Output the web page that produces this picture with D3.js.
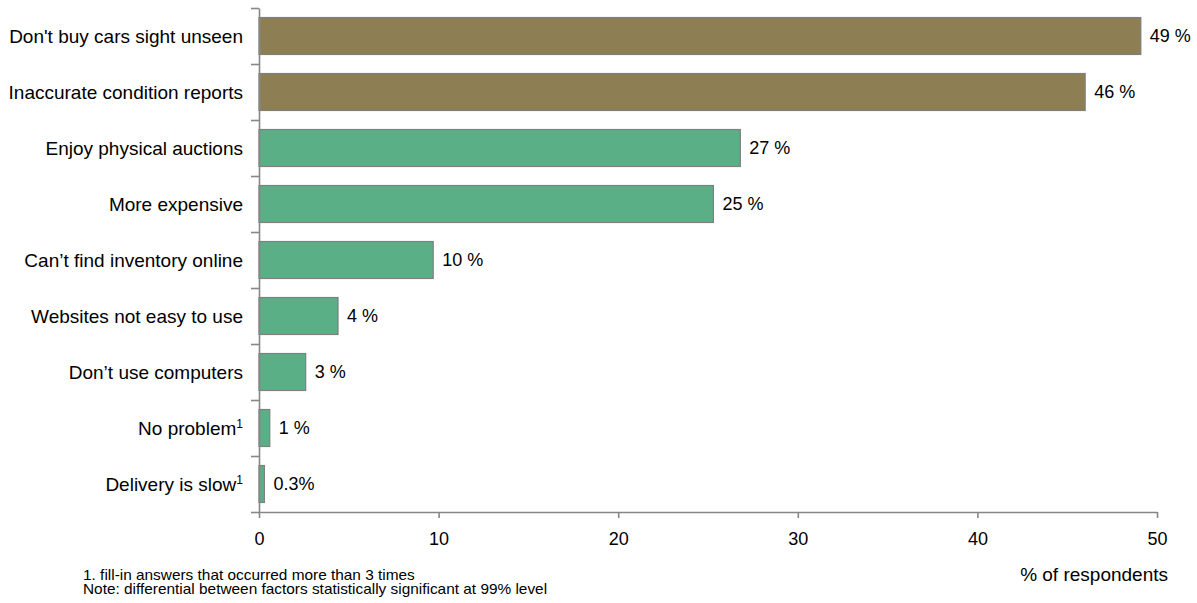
<!DOCTYPE html>
<html>
<head>
<meta charset="utf-8">
<script src="https://cdn.jsdelivr.net/npm/d3@7"></script>
<style>
  html, body { margin: 0; padding: 0; background: #fff; }
  svg { display: block; font-family: "Liberation Sans", Arial, sans-serif; }
</style>
</head>
<body>
<svg id="chart" width="1197" height="603"></svg>
<script>
// Reasons for not buying at online auctions (% of respondents)
const categories = [
  "Don't buy cars sight unseen",
  "Inaccurate condition reports",
  "Enjoy physical auctions",
  "More expensive",
  "Can\u2019t find inventory online",
  "Websites not easy to use",
  "Don\u2019t use computers",
  "No problem",
  "Delivery is slow"
];
const values = [49.1, 46.0, 26.8, 25.3, 9.7, 4.4, 2.6, 0.6, 0.3];
// categories flagged with footnote 1 (fill-in answers)
const footnoted = [false, false, false, false, false, false, false, true, true];
// top two reasons are highlighted
const highlighted = [true, true, false, false, false, false, false, false, false];
const xTicks = [0, 10, 20, 30, 40, 50];
const footnotes = [
  "1. fill-in answers that occurred more than 3 times",
  "Note: differential between factors statistically significant at 99% level"
];
const axisTitle = "% of respondents";

const svg = d3.select("#chart");
const plot = { left: 259, right: 1157, top: 8, bottom: 512 };
const axisColor = "#878787";

const x = d3.scaleLinear().domain([0, 50]).range([plot.left, plot.right]);
const y = d3.scaleBand().domain(categories).range([plot.top, plot.bottom])
  .paddingInner(0.34).paddingOuter(0.17);

const rows = categories.map((c, i) => ({
  name: c, value: values[i], note: footnoted[i], hi: highlighted[i]
}));

// bars
svg.append("g").selectAll("rect").data(rows).join("rect")
  .attr("x", x(0))
  .attr("y", d => y(d.name))
  .attr("width", d => x(d.value) - x(0))
  .attr("height", y.bandwidth())
  .attr("fill", d => d.hi ? "#8D7E53" : "#5BAF86")
  .attr("stroke", "#7f7f7f")
  .attr("stroke-width", 1.2);

// value labels
const fmt = v => v < 0.5 ? v.toFixed(1) + "%" : Math.round(v) + " %";
svg.append("g").selectAll("text").data(rows).join("text")
  .attr("x", d => x(d.value) + 9)
  .attr("y", d => y(d.name) + y.bandwidth() / 2)
  .attr("dy", "0.36em")
  .attr("font-size", 18)
  .attr("fill", "#000")
  .text(d => fmt(d.value));

// category labels
const catLabels = svg.append("g").selectAll("text").data(rows).join("text")
  .attr("x", 243)
  .attr("y", d => y(d.name) + y.bandwidth() / 2)
  .attr("dy", "0.36em")
  .attr("text-anchor", "end")
  .attr("font-size", 19)
  .attr("fill", "#000");
catLabels.append("tspan").text(d => d.name);
catLabels.filter(d => d.note).append("tspan")
  .attr("font-size", 12)
  .attr("dy", "-0.55em")
  .text("1");

// y axis with ticks at category boundaries
const yEdges = d3.scaleLinear().domain([0, categories.length]).range([plot.top, plot.bottom]);
const yAxis = svg.append("g")
  .attr("transform", `translate(${plot.left},0)`)
  .call(d3.axisLeft(yEdges).tickValues(d3.range(0, categories.length + 1))
    .tickFormat("").tickSizeInner(8).tickSizeOuter(0));

// x axis
const xAxis = svg.append("g")
  .attr("transform", `translate(0,${plot.bottom})`)
  .call(d3.axisBottom(x).tickValues(xTicks).tickSizeInner(6).tickSizeOuter(0).tickPadding(14));

[yAxis, xAxis].forEach(g => {
  g.selectAll("path.domain").attr("stroke", axisColor).attr("stroke-width", 1.6);
  g.selectAll(".tick line").attr("stroke", axisColor).attr("stroke-width", 1.6);
});
xAxis.selectAll(".tick text")
  .attr("font-size", 18)
  .attr("font-family", "Liberation Sans, Arial, sans-serif")
  .attr("fill", "#000");

// axis title
svg.append("text")
  .attr("x", 1168).attr("y", 581)
  .attr("text-anchor", "end")
  .attr("font-size", 19)
  .attr("fill", "#000")
  .text(axisTitle);

// footnotes: compact, slightly widened type
svg.append("g")
  .attr("transform", "translate(83,0) scale(1.1,1)")
  .selectAll("text").data(footnotes).join("text")
  .attr("x", 0)
  .attr("y", (d, i) => 580 + i * 14)
  .attr("font-size", 14)
  .attr("fill", "#000")
  .text(d => d);
</script>
</body>
</html>
